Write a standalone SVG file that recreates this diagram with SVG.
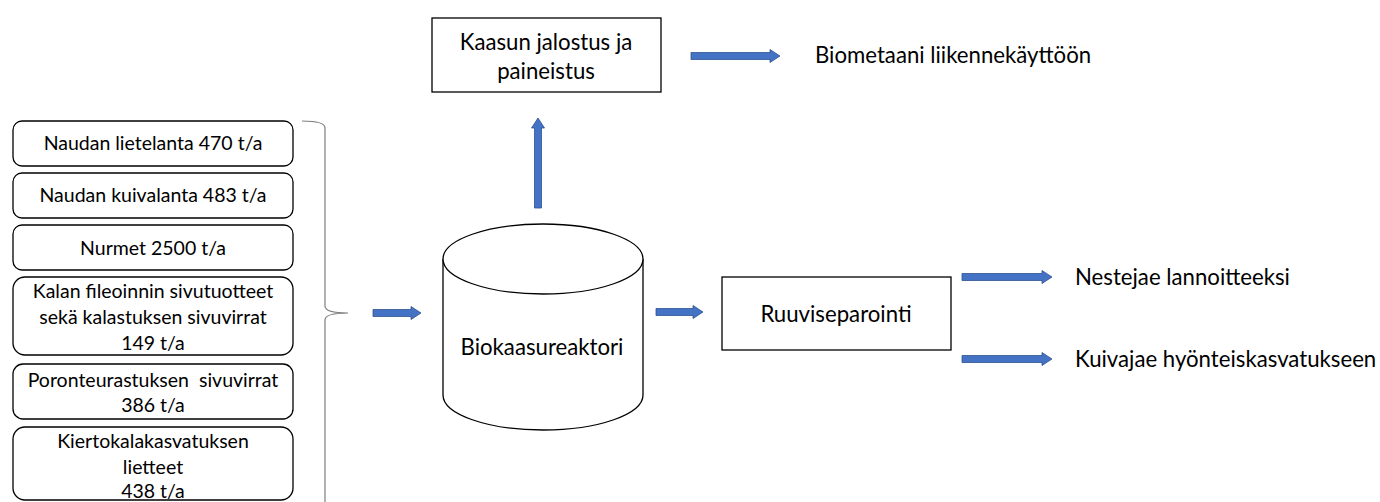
<svg xmlns="http://www.w3.org/2000/svg" width="1380" height="502" viewBox="0 0 1380 502">
  <style>
    .box { fill: #ffffff; stroke: #000000; stroke-width: 1.3; }
    .t { font-family: Lato, "Liberation Sans", sans-serif; fill: #000000; text-anchor: middle; }
    .s { font-size: 19.5px; }
    .l { font-size: 22.2px; }
    .lbl { font-family: Lato, "Liberation Sans", sans-serif; font-size: 22.2px; fill: #000000; }
    .arrow { fill: #4472C4; stroke: #2F528F; stroke-width: 0.8; }
    .brace { fill: none; stroke: #7f7f7f; stroke-width: 1.2; }
  </style>
  <rect width="1380" height="502" fill="#ffffff"/>

  <!-- feedstock boxes -->
  <g id="naudan-lietelanta">
    <rect class="box" x="13" y="121" width="280" height="45" rx="9"/>
    <text class="t s" x="153" y="150">Naudan lietelanta 470 t/a</text>
  </g>
  <g id="naudan-kuivalanta">
    <rect class="box" x="13" y="173" width="280" height="45" rx="9"/>
    <text class="t s" x="153" y="202">Naudan kuivalanta 483 t/a</text>
  </g>
  <g id="nurmet">
    <rect class="box" x="13" y="225" width="280" height="45" rx="9"/>
    <text class="t s" x="153" y="255">Nurmet 2500 t/a</text>
  </g>
  <g id="kalan-sivutuotteet">
    <rect class="box" x="13" y="277" width="280" height="78" rx="12"/>
    <text class="t s" x="153" y="298">Kalan fileoinnin sivutuotteet</text>
    <text class="t s" x="153" y="324">sekä kalastuksen sivuvirrat</text>
    <text class="t s" x="153" y="350">149 t/a</text>
  </g>
  <g id="poronteurastus">
    <rect class="box" x="13" y="364" width="280" height="55" rx="10"/>
    <text class="t s" x="153" y="387" xml:space="preserve">Poronteurastuksen  sivuvirrat</text>
    <text class="t s" x="153" y="412">386 t/a</text>
  </g>
  <g id="kiertokalakasvatus">
    <rect class="box" x="13" y="427" width="280" height="73" rx="12"/>
    <text class="t s" x="153" y="448">Kiertokalakasvatuksen</text>
    <text class="t s" x="153" y="474">lietteet</text>
    <text class="t s" x="153" y="498">438 t/a</text>
  </g>

  <!-- brace grouping the feedstocks -->
  <g id="brace">
    <path class="brace" d="M302,121 Q325,121 325,128 L325,306 Q325,313 348,313 Q325,313 325,320 L325,502"/>
  </g>

  <!-- reactor -->
  <g id="biokaasureaktori">
    <path class="box" d="M443,259 L443,395 A100,35 0 0 0 643,395 L643,259"/>
    <ellipse class="box" cx="543" cy="259" rx="100" ry="35"/>
    <text class="t l" x="542" y="355">Biokaasureaktori</text>
  </g>

  <!-- gas upgrading -->
  <g id="kaasun-jalostus">
    <rect class="box" x="432" y="18" width="229" height="74"/>
    <text class="t l" x="546" y="50">Kaasun jalostus ja</text>
    <text class="t l" x="546" y="79">paineistus</text>
  </g>

  <!-- screw separation -->
  <g id="ruuviseparointi">
    <rect class="box" x="722" y="277" width="229" height="73"/>
    <text class="t l" x="836" y="322">Ruuviseparointi</text>
  </g>

  <!-- outputs -->
  <g id="biometaani">
    <text class="lbl" x="815" y="63">Biometaani liikennekäyttöön</text>
  </g>
  <g id="nestejae">
    <text class="lbl" x="1075" y="285">Nestejae lannoitteeksi</text>
  </g>
  <g id="kuivajae">
    <text class="lbl" x="1075" y="367">Kuivajae hyönteiskasvatukseen</text>
  </g>

  <!-- block arrows -->
  <g id="connectors">
    <path class="arrow" d="M373,309.5 L411,309.5 L411,306.5 L421,313 L411,319.5 L411,316.5 L373,316.5 Z"/>
    <path class="arrow" d="M534.5,208 L534.5,128 L531.5,128 L538,118 L544.5,128 L541.5,128 L541.5,208 Z"/>
    <path class="arrow" d="M691,52.5 L770,52.5 L770,49.5 L780,56 L770,62.5 L770,59.5 L691,59.5 Z"/>
    <path class="arrow" d="M656,308.5 L693,308.5 L693,305.5 L703,312 L693,318.5 L693,315.5 L656,315.5 Z"/>
    <path class="arrow" d="M962,273.5 L1042,273.5 L1042,270.5 L1052,277 L1042,283.5 L1042,280.5 L962,280.5 Z"/>
    <path class="arrow" d="M962,355.5 L1042,355.5 L1042,352.5 L1052,359 L1042,365.5 L1042,362.5 L962,362.5 Z"/>
  </g>
</svg>
